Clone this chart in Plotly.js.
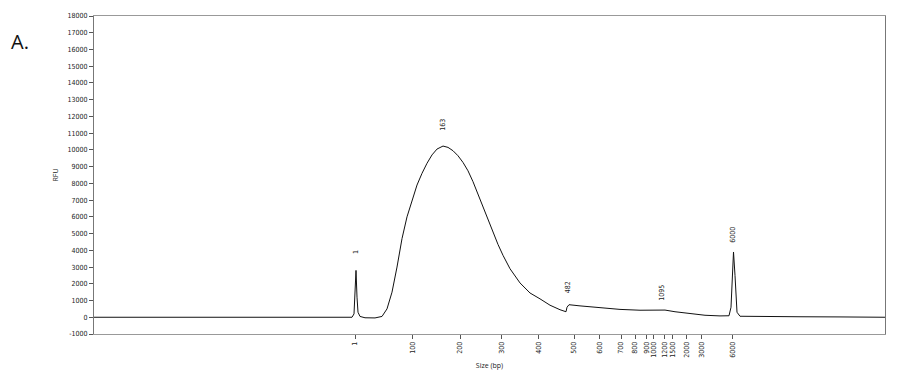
<!DOCTYPE html>
<html><head><meta charset="utf-8">
<script src="https://cdn.plot.ly/plotly-3.0.1.min.js"></script>
<style>body{margin:0;background:#fff}#c{width:912px;height:391px}</style>
</head><body><div id="c"></div>
<script>
// migration position (arbitrary units) and RFU signal
const time = [94,150,200,250,300,340,352,354,355,356,357,358,360,365,375,382,387,392,397,402,407,412,417,422,427,432,437,443,448,453,458,463,468,473,478,483,488,493,498,503,510,520,530,540,550,560,566,567,569,580,600,620,640,655,665,675,690,705,720,729,731,732.5,733.5,735,737,740,760,800,840,870,885];
const rfu  = [0,0,0,0,-20,0,0,200,1500,2800,1200,300,50,-30,-40,50,500,1500,3000,4700,6000,7000,7900,8600,9200,9700,10050,10230,10150,9950,9650,9250,8750,8100,7350,6550,5800,5050,4350,3700,2900,2050,1450,1100,720,450,330,600,750,680,560,470,420,440,430,330,220,120,80,90,600,3000,3900,2500,300,60,40,30,20,20,0];
// size ladder tick positions and labels
const sizeTickPos = [355,412.3,460,501.7,538.3,574,599.3,621,635,646.7,653.3,664.3,672.3,686.7,701.7,732.7];
const sizeTickText = ["1","100","200","300","400","500","600","700","800","900","1000","1200","1500","2000","3000","6000"];
// called peaks
const peakPos = [356,443,568,661.7,733.3];
const peakY = [3900,11500,1800,1450,4950];
const peakText = ["1","163","482","1095","6000"];
const yTicks = [-1000,0,1000,2000,3000,4000,5000,6000,7000,8000,9000,10000,11000,12000,13000,14000,15000,16000,17000,18000];
const yTickText = ["-1000","0","1000","2000","3000","4000","5000","6000","7000","8000","9000","10000","11000","12000","13000","14000","15000","16000","17000","18000"];

const fnt = {family:"Liberation Sans Narrow, DejaVu Sans Condensed, sans-serif", size:7, color:"#222"};
const anns = peakText.map((t,i)=>({x:peakPos[i], y:peakY[i], text:t, showarrow:false, textangle:-90, font:fnt, xref:'x', yref:'y'}));
anns.push({xref:'paper', yref:'paper', x:-0.107, y:0.97, xanchor:'left', yanchor:'top', text:'A.', showarrow:false, font:{family:'Open Sans, sans-serif', size:20, color:'#111'}});

Plotly.newPlot('c', [{x:time, y:rfu, type:'scatter', mode:'lines', line:{color:'#111', width:1}, hoverinfo:'skip'}], {
  width:912, height:391, margin:{l:94, r:27, t:16, b:57},
  paper_bgcolor:'#fff', plot_bgcolor:'#fff', showlegend:false,
  xaxis:{range:[94,885], tickmode:'array', tickvals:sizeTickPos, ticktext:sizeTickText, tickangle:-90,
    ticks:'outside', ticklen:4, tickcolor:'#555', showgrid:false, zeroline:false, showline:true, linecolor:'#999', mirror:true,
    tickfont:fnt, title:{text:'Size (bp)', font:{family:'Open Sans, sans-serif', size:7, color:'#222'}, standoff:6}},
  yaxis:{range:[-1000,18000], tickmode:'array', tickvals:yTicks, ticktext:yTickText, ticks:'outside', ticklen:4, tickcolor:'#555',
    showgrid:false, zeroline:false, showline:true, linecolor:'#777', mirror:true, tickfont:fnt,
    title:{text:'RFU', font:{family:'Open Sans, sans-serif', size:7, color:'#222'}, standoff:8}},
  annotations:anns
}, {staticPlot:true});
</script></body></html>
